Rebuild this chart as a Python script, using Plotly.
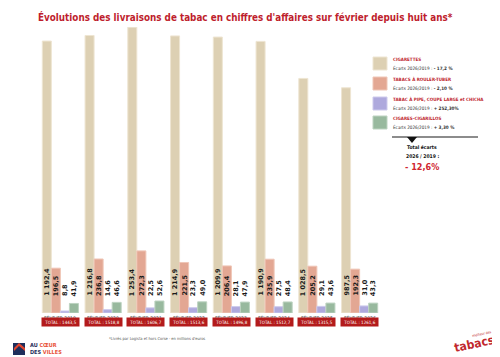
import plotly.graph_objects as go

years = ["2019", "2020", "2021", "2022", "2023", "2024", "2025", "2026"]
tick_labels = ["FÉVRIER " + y for y in years]
cigarettes = [1192.4, 1216.8, 1253.4, 1214.9, 1209.9, 1190.9, 1028.5, 987.5]
tabacs_rouler = [196.5, 236.8, 272.3, 221.5, 206.4, 235.9, 205.2, 192.3]
tabac_pipe = [8.8, 14.6, 22.5, 23.3, 28.1, 27.5, 29.1, 31.0]
cigares = [41.9, 46.6, 52.6, 49.0, 47.9, 48.4, 43.6, 43.3]
totals = ["1443,5", "1518,8", "1606,7", "1513,6", "1496,8", "1512,7", "1315,5", "1261,6"]

series_names = ["CIGARETTES", "TABACS À ROULER-TUBER", "TABAC À PIPE, COUPE LARGE et CHICHA", "CIGARES-CIGARILLOS"]
series_vals = [cigarettes, tabacs_rouler, tabac_pipe, cigares]
ecarts = ["- 17,2 %", "- 2,10 %", "+ 252,30%", "+ 3,30 %"]
colors = ["#DDD0B3", "#E3A793", "#AEA9DD", "#98B99E"]
edges = ["#EEE5D2", "#EFC6B7", "#CDCAEC", "#BDD3C1"]

NARROW = "DejaVu Sans Condensed, Liberation Sans Narrow, Roboto"

OFF = 8  # page body margin
W, H = 500 - OFF, 357 - OFF
ML, MR, MT, MB = 39 - OFF, 119, 27 - OFF, 44
PW, PH = W - ML - MR, H - MT - MB
BARGAP = 0.155


def px(x):
    return (x - OFF - ML) / PW


def py(y):
    return (H - MB - (y - OFF)) / PH


def fmt(v):
    s = f"{v:,.1f}".replace(",", " ").replace(".", ",")
    return s


fig = go.Figure()
xs = list(range(len(years)))
for k, (name, vals) in enumerate(zip(series_names, series_vals)):
    fig.add_trace(go.Bar(
        x=xs, y=vals, name=name, showlegend=False,
        marker=dict(color=colors[k], line=dict(color=edges[k], width=1)),
        hoverinfo="skip",
    ))

annotations = []
bw = (1 - BARGAP) / 4
for k, vals in enumerate(series_vals):
    for i, v in enumerate(vals):
        annotations.append(dict(
            x=i + (k - 1.5) * bw, y=0, xref="x", yref="y",
            text=f"<b>{fmt(v)}</b>", showarrow=False, textangle=-90,
            xanchor="center", yanchor="bottom", yshift=15,
            font=dict(family="DejaVu Sans", size=6.5, color="#1a1a1a"),
        ))

# x labels
for i, t in enumerate(tick_labels):
    annotations.append(dict(
        x=i, y=py(318), xref="x", yref="paper",
        text=t, showarrow=False, xanchor="center", yanchor="middle",
        font=dict(family=NARROW, size=5, color="#444444"),
    ))

# total boxes
for i, t in enumerate(totals):
    annotations.append(dict(
        x=i, y=py(327), xref="x", yref="paper",
        text=f"TOTAL : {t}", showarrow=False,
        bgcolor="#B31B1B", width=35, height=6, borderpad=1,
        font=dict(family=NARROW, size=4.5, color="white"),
    ))

# title
annotations.append(dict(
    x=px(245), y=py(17), xref="paper", yref="paper",
    text="<b>Évolutions des livraisons de tabac en chiffres d'affaires sur février depuis huit ans*</b>",
    showarrow=False, xanchor="center", yanchor="middle",
    font=dict(family=NARROW, size=9.8, color="#BE1E2D"),
))

# legend
shapes = []
leg_top = [57, 77, 97, 116]
for k in range(4):
    t = leg_top[k]
    shapes.append(dict(type="rect", xref="paper", yref="paper",
                       x0=px(373), x1=px(387), y0=py(t + 13), y1=py(t),
                       fillcolor=colors[k], line=dict(color=edges[k], width=1)))
    annotations.append(dict(
        x=px(391), y=py(t + 2), xref="paper", yref="paper",
        text=f"<b>{series_names[k]}</b>", showarrow=False,
        xanchor="left", yanchor="middle",
        font=dict(family=NARROW, size=4.5, color="#BE1E2D"),
    ))
    annotations.append(dict(
        x=px(391), y=py(t + 11), xref="paper", yref="paper",
        text=f"Écarts 2026/2019 : <b>{ecarts[k]}</b>", showarrow=False,
        xanchor="left", yanchor="middle",
        font=dict(family=NARROW, size=4.6, color="#333333"),
    ))

shapes.append(dict(type="line", xref="paper", yref="paper",
                   x0=px(392), x1=px(478), y0=py(137), y1=py(137),
                   line=dict(color="#666666", width=1.5)))
shapes.append(dict(type="path", xref="paper", yref="paper",
                   path=f"M {px(407)} {py(137)} L {px(417)} {py(137)} L {px(412)} {py(143)} Z",
                   fillcolor="#111111", line=dict(width=0)))
annotations.append(dict(
    x=px(422), y=py(147), xref="paper", yref="paper",
    text="<b>Total écarts</b>", showarrow=False, xanchor="center", yanchor="middle",
    font=dict(family=NARROW, size=5, color="#111111"),
))
annotations.append(dict(
    x=px(422), y=py(156), xref="paper", yref="paper",
    text="<b>2026 / 2019 :</b>", showarrow=False, xanchor="center", yanchor="middle",
    font=dict(family=NARROW, size=5, color="#111111"),
))
annotations.append(dict(
    x=px(422), y=py(167), xref="paper", yref="paper",
    text="<b>- 12,6%</b>", showarrow=False, xanchor="center", yanchor="middle",
    font=dict(family=NARROW, size=9, color="#D0262F"),
))

# footnote
annotations.append(dict(
    x=px(157), y=py(338), xref="paper", yref="paper",
    text="*Livrés par Logista et hors Corse - en millions d'euros", showarrow=False,
    xanchor="center", yanchor="middle",
    font=dict(family=NARROW, size=4, color="#555555"),
))

# left logo
shapes.append(dict(type="rect", xref="paper", yref="paper",
                   x0=px(13), x1=px(25), y0=py(355), y1=py(343),
                   fillcolor="#1F2F5C", line=dict(width=0)))
shapes.append(dict(type="path", xref="paper", yref="paper",
                   path=f"M {px(14)} {py(348)} L {px(19)} {py(343)} L {px(25)} {py(348)} L {px(25)} {py(351)} L {px(19)} {py(346)} L {px(14)} {py(351)} Z",
                   fillcolor="#E2462F", line=dict(width=0)))
annotations.append(dict(
    x=px(28), y=py(345.5), xref="paper", yref="paper",
    text="<b><span style='color:#1F2F5C'>AU</span> <span style='color:#E8533A'>CŒUR</span></b>",
    showarrow=False, xanchor="left", yanchor="middle",
    font=dict(family=NARROW, size=5.5),
))
annotations.append(dict(
    x=px(28), y=py(352), xref="paper", yref="paper",
    text="<b><span style='color:#1F2F5C'>DES</span> <span style='color:#E8533A'>VILLES</span></b>",
    showarrow=False, xanchor="left", yanchor="middle",
    font=dict(family=NARROW, size=5.5),
))

# right logo
annotations.append(dict(
    x=px(474), y=py(344), xref="paper", yref="paper",
    text="<b>tabacs</b>", showarrow=False, textangle=-12,
    xanchor="center", yanchor="middle",
    font=dict(family=NARROW, size=12, color="#C1272D"),
))
annotations.append(dict(
    x=px(482), y=py(334), xref="paper", yref="paper",
    text="meilleur des", showarrow=False, textangle=-12,
    xanchor="center", yanchor="middle",
    font=dict(family=NARROW, size=3.5, color="#C1272D"),
))

fig.update_layout(
    width=W, height=H,
    margin=dict(l=ML, r=MR, t=MT, b=MB, autoexpand=False),
    paper_bgcolor="white", plot_bgcolor="white",
    barmode="group", bargap=BARGAP, bargroupgap=0,
    xaxis=dict(tickmode="array", tickvals=xs, ticktext=[""] * len(xs),
               range=[-0.5, len(years) - 0.5], showgrid=False, zeroline=False,
               showline=False, ticks="", automargin=False),
    yaxis=dict(range=[0, 1254], showgrid=False, zeroline=False, showticklabels=False,
               showline=False, ticks="", automargin=False),
    annotations=annotations, shapes=shapes,
    showlegend=False,
)

fig.write_html("out.html")
